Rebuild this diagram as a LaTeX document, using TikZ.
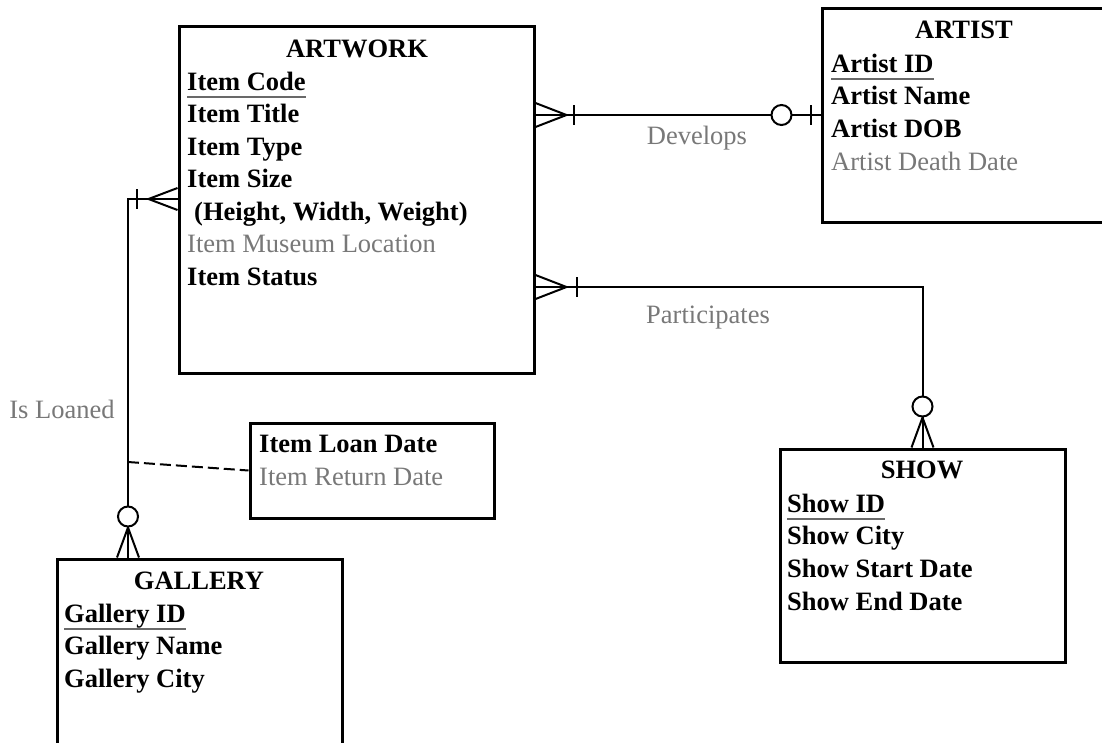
\documentclass[tikz,border=0pt]{standalone}
\usepackage{fontspec}
\setmainfont{Liberation Serif}
\usetikzlibrary{calc}
\definecolor{lbl}{RGB}{120,120,120}
\definecolor{ulc}{RGB}{105,105,105}
\begin{document}
\begin{tikzpicture}[x=1pt,y=-1pt,
  entity/.style={draw,line width=3pt,rectangle,inner sep=0pt,minimum width=#1},
  attr/.style={inner sep=0pt,anchor=base west,font=\fontsize{26.5}{30}\selectfont\bfseries},
  weak/.style={inner sep=0pt,anchor=base west,font=\fontsize{26.5}{30}\selectfont,text=lbl},
  ttl/.style={inner sep=0pt,anchor=base,font=\fontsize{26.5}{30}\selectfont\bfseries},
  rel/.style={inner sep=0pt,anchor=base,font=\fontsize{26.5}{30}\selectfont,text=lbl},
  conn/.style={line width=2pt,line join=miter},
  ul/.style={line width=2pt,draw=ulc},
  ring/.style={line width=2pt,draw,fill=white}]
\useasboundingbox (0,0) rectangle (1102,742);
\clip (0,0) rectangle (1102,742);
\fill[white] (0,0) rectangle (1102,742);

% entity boxes
\node[entity=355pt,minimum height=347pt] (artwork) at (356.5,199.5) {};
\node[entity=320pt,minimum height=214pt] (artist) at (982,115) {};
\node[entity=285pt,minimum height=213pt] (show) at (922.5,555.5) {};
\node[entity=285pt,minimum height=240pt] (gallery) at (199.5,679) {};
\node[entity=244pt,minimum height=95pt] (loan) at (372,470.5) {};

% ARTWORK
\node[ttl] (tartwork) at (357,57) {ARTWORK};
\node[attr] (a1) at (187,90) {Item Code};
\node[attr] (a2) at (187,122.5) {Item Title};
\node[attr] (a3) at (187,155) {Item Type};
\node[attr] (a4) at (187,187.5) {Item Size};
\node[attr] (a5) at (194,220) {(Height, Width, Weight)};
\node[weak] (a6) at (187,252.5) {Item Museum Location};
\node[attr] (a7) at (187,285) {Item Status};
\draw[ul] ($(a1.base west)+(0,7)$) -- ($(a1.base east)+(0,7)$);

% ARTIST
\node[ttl] (tartist) at (964,38) {ARTIST};
\node[attr] (r1) at (831,72) {Artist ID};
\node[attr] (r2) at (831,104.5) {Artist Name};
\node[attr] (r3) at (831,137) {Artist DOB};
\node[weak] (r4) at (831,170) {Artist Death Date};
\draw[ul] ($(r1.base west)+(0,7)$) -- ($(r1.base east)+(0,7)$);

% SHOW
\node[ttl] (tshow) at (922,478) {SHOW};
\node[attr] (s1) at (787,512) {Show ID};
\node[attr] (s2) at (787,544.5) {Show City};
\node[attr] (s3) at (787,577) {Show Start Date};
\node[attr] (s4) at (787,610) {Show End Date};
\draw[ul] ($(s1.base west)+(0,7)$) -- ($(s1.base east)+(0,7)$);

% GALLERY
\node[ttl] (tgallery) at (199,589) {GALLERY};
\node[attr] (g1) at (64,622) {Gallery ID};
\node[attr] (g2) at (64,654.5) {Gallery Name};
\node[attr] (g3) at (64,687) {Gallery City};
\draw[ul] ($(g1.base west)+(0,7)$) -- ($(g1.base east)+(0,7)$);

% loan attributes
\node[attr] (l1) at (259,452) {Item Loan Date};
\node[weak] (l2) at (259,485) {Item Return Date};

% Develops
\coordinate (dA) at (artwork.east |- artist.west);
\draw[conn] (dA) -- (artist.west);
\draw[conn] ($(dA)+(0,-12)$) -- ($(dA)+(31,0)$) -- ($(dA)+(0,12)$);
\draw[conn] ($(dA)+(38,-10)$) -- ($(dA)+(38,10)$);
\draw[conn] ($(artist.west)+(-10,-10)$) -- ($(artist.west)+(-10,10)$);
\draw[ring] ($(artist.west)+(-39,0)$) circle (10);
\node[rel] (ldev) at (697,144) {Develops};

% Participates
\coordinate (pj) at (922.5,287);
\coordinate (pA) at (artwork.east |- pj);
\draw[conn] (pA) -- (pj) -- (show.north);
\draw[conn] ($(pA)+(0,-12)$) -- ($(pA)+(31,0)$) -- ($(pA)+(0,12)$);
\draw[conn] ($(pA)+(41,-10)$) -- ($(pA)+(41,10)$);
\draw[conn] ($(show.north)+(-11,0)$) -- ($(show.north)+(0,-30)$) -- ($(show.north)+(11,0)$);
\draw[ring] ($(show.north)+(0,-41)$) circle (10);
\node[rel] (lpart) at (708,323) {Participates};

% Is Loaned
\coordinate (lj) at (128,199);
\coordinate (lA) at (artwork.west |- lj);
\coordinate (lG) at (lj |- gallery.north);
\draw[conn] (lA) -- (lj) -- (lG);
\draw[conn] ($(lA)+(0,-11)$) -- ($(lA)+(-29,0)$) -- ($(lA)+(0,11)$);
\draw[conn] ($(lA)+(-41,-10)$) -- ($(lA)+(-41,10)$);
\draw[conn] ($(lG)+(-11,0)$) -- ($(lG)+(0,-30)$) -- ($(lG)+(11,0)$);
\draw[ring] ($(lG)+(0,-41)$) circle (10);
\node[rel] (lloan) at (62,418) {Is Loaned};

% associative link
\coordinate (lr) at (128,462);
\draw[conn,dash pattern=on 11pt off 5pt] (lr) -- (loan.west);
\end{tikzpicture}
\end{document}
